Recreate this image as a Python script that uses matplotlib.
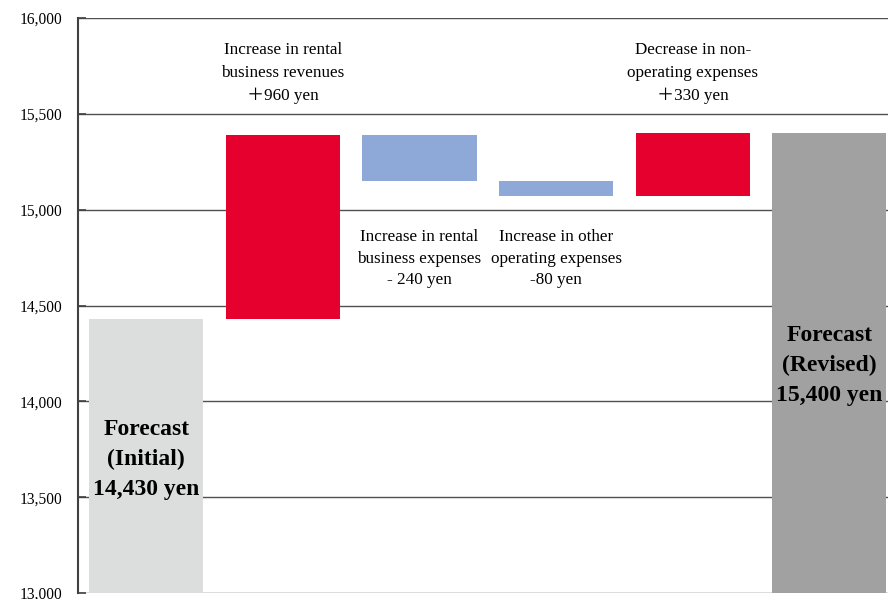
import numpy as np
from matplotlib import pyplot as plt

# Waterfall: forecast initial -> revised (yen)
steps = ['initial', 'rental_rev', 'rental_exp', 'other_exp', 'nonop_exp', 'revised']
start = 14430
deltas = [960, -240, -80, 330]
end = 15400

labels_top = ['Increase in rental\nbusiness revenues\n\uff0b960 yen', None, None,
              'Decrease in non-\noperating expenses\n\uff0b330 yen']
labels_below = [None, 'Increase in rental\nbusiness expenses\n- 240 yen',
                'Increase in other\noperating expenses\n-80 yen', None]
start_label = 'Forecast\n(Initial)\n14,430 yen'
end_label = 'Forecast\n(Revised)\n15,400 yen'

yticks = [13000, 13500, 14000, 14500, 15000, 15500, 16000]

red = '#e5002d'
blue = '#8ea9d8'

plt.rcParams['font.family'] = ['Liberation Serif', 'Noto Sans CJK JP', 'DejaVu Sans']

fig = plt.figure(figsize=(8.88, 5.99), dpi=100)
ax = fig.add_axes([78 / 888, 6 / 599, 810 / 888, 575 / 599])

w = 0.835
x = np.arange(len(steps))

# totals
ax.bar(x[0], start - 13000, bottom=13000, width=w, color='#dcdddd', zorder=2)
ax.bar(x[-1], end - 13000, bottom=13000, width=w, color='#a0a1a0', zorder=2)

# increments
level = start
for i, d in enumerate(deltas):
    lo = level if d > 0 else level + d
    ax.bar(x[i + 1], abs(d), bottom=lo, width=w, color=red if d > 0 else blue, zorder=2)
    level += d

ax.text(x[0], 13698, start_label, ha='center', va='center', fontsize=17,
        fontweight='bold', linespacing=1.55, zorder=3)
ax.text(x[-1], 14189, end_label, ha='center', va='center', fontsize=17,
        fontweight='bold', linespacing=1.55, zorder=3)

for i, lab in enumerate(labels_top):
    if lab:
        ax.text(x[i + 1], 15712, lab, ha='center', va='center', fontsize=12.3,
                linespacing=1.55)
for i, lab in enumerate(labels_below):
    if lab:
        ax.text(x[i + 1], 14745, lab, ha='center', va='center', fontsize=12.3,
                linespacing=1.45)

ax.set_xlim(-0.5, 5.43)
ax.set_ylim(13000, 16000)
ax.set_yticks(yticks)
ax.set_yticklabels([f'{v:,}' for v in yticks], fontsize=11.2)
ax.set_xticks([])
ax.tick_params(axis='y', direction='in', length=6, width=1.2, color='#404040', pad=11)
ax.grid(axis='y', color='#505050', linewidth=1, zorder=1)
ax.set_axisbelow(True)

for s in ['top', 'right', 'bottom']:
    ax.spines[s].set_visible(False)
ax.spines['left'].set_color('#404040')
ax.spines['left'].set_linewidth(1.5)

plt.savefig('out.png', dpi=100)
